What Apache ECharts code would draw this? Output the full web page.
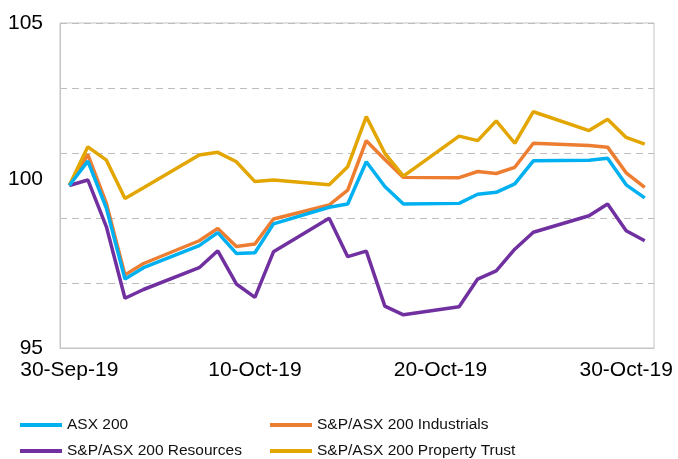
<!DOCTYPE html>
<html>
<head>
<meta charset="utf-8">
<script src="https://cdn.jsdelivr.net/npm/echarts@6/dist/echarts.min.js"></script>
<style>
  html, body { margin: 0; padding: 0; background: #fff; }
  #main { width: 678px; height: 459px; }
</style>
</head>
<body>
<div id="main"></div>
<script>
// trading days shown on the chart
var dates = ['2019-09-30', '2019-10-01', '2019-10-02', '2019-10-03', '2019-10-04',
  '2019-10-07', '2019-10-08', '2019-10-09', '2019-10-10', '2019-10-11',
  '2019-10-14', '2019-10-15', '2019-10-16', '2019-10-17', '2019-10-18',
  '2019-10-21', '2019-10-22', '2019-10-23', '2019-10-24', '2019-10-25',
  '2019-10-28', '2019-10-29', '2019-10-30', '2019-10-31'];

var asx200 = [100, 100.75, 99.3, 97.12, 97.47, 98.15, 98.55, 97.91, 97.93, 98.82,
  99.33, 99.43, 100.73, 99.97, 99.43, 99.45, 99.73, 99.79, 100.05, 100.76,
  100.78, 100.84, 100.02, 99.62];
var industrials = [100, 100.95, 99.45, 97.25, 97.6, 98.3, 98.68, 98.12, 98.2, 98.97,
  99.4, 99.86, 101.38, 100.8, 100.25, 100.24, 100.43, 100.37, 100.56, 101.3,
  101.23, 101.18, 100.39, 99.94];
var resources = [100, 100.17, 98.73, 96.53, 96.8, 97.47, 97.99, 96.97, 96.56, 97.96,
  98.99, 97.81, 97.98, 96.29, 96.02, 96.27, 97.12, 97.37, 98.04, 98.56,
  99.07, 99.43, 98.61, 98.3];
var propertyTrust = [100, 101.19, 100.78, 99.6, 99.93, 100.94, 101.02, 100.73, 100.12, 100.17,
  100.02, 100.58, 102.12, 100.99, 100.29, 101.52, 101.38, 101.99, 101.3, 102.27,
  101.69, 102.04, 101.48, 101.27];

var xTickLabels = ['30-Sep-19', '10-Oct-19', '20-Oct-19', '30-Oct-19'];
var yTickLabels = [95, 100, 105];

var seriesNames = ['ASX 200', 'S&P/ASX 200 Industrials', 'S&P/ASX 200 Resources', 'S&P/ASX 200 Property Trust'];
var seriesData = [asx200, industrials, resources, propertyTrust];
var colors = ['#00B0F0', '#ED7D31', '#7030A0', '#E3A600'];

var FONT = 'Arial, "Liberation Sans", sans-serif';
var DAY = 24 * 3600 * 1000;
var start = Date.parse(dates[0]);
// day offset from 30-Sep
var days = dates.map(function (d) { return Math.round((Date.parse(d) - start) / DAY); });

var chart = echarts.init(document.getElementById('main'));

function legendCol(left, names) {
  return {
    left: left, top: 417, height: 60,
    orient: 'vertical',
    padding: 0,
    itemGap: 10,
    itemWidth: 42, itemHeight: 4,
    icon: 'rect',
    textStyle: { fontFamily: FONT, fontSize: 15.5, color: '#111', lineHeight: 16 },
    data: names
  };
}

var option = {
  animation: false,
  backgroundColor: '#fff',
  color: colors,
  textStyle: { fontFamily: FONT },
  grid: {
    left: 60, right: 24, top: 23, bottom: 111,
    show: true,
    borderColor: '#c4c4c4',
    borderWidth: 1
  },
  legend: [
    legendCol(20, [seriesNames[0], seriesNames[2]]),
    legendCol(270, [seriesNames[1], seriesNames[3]])
  ],
  xAxis: {
    type: 'value',
    min: -0.5,
    max: 31.5,
    axisLine: { show: true, onZero: false, lineStyle: { color: '#c4c4c4' } },
    axisTick: { show: false },
    splitLine: { show: false },
    axisLabel: {
      customValues: [0, 10, 20, 30],
      margin: 12,
      fontFamily: FONT,
      fontSize: 21,
      color: '#000',
      formatter: function (v) { return xTickLabels[Math.round(v / 10)]; }
    }
  },
  yAxis: [{
    type: 'value',
    position: 'left',
    min: 95, max: 105, interval: 5,
    axisLine: { show: true, onZero: false, lineStyle: { color: '#c4c4c4' } },
    axisTick: { show: false },
    splitLine: { show: false },
    axisLabel: {
      margin: 17,
      fontFamily: FONT,
      fontSize: 21,
      color: '#000',
      formatter: function (v) {
        if (yTickLabels.indexOf(v) < 0) return '';
        return v === 100 ? '{mid|' + v + '}' : String(v);
      },
      rich: { mid: { fontFamily: FONT, fontSize: 21, color: '#000', padding: [0, 0, 12, 0] } }
    }
  }, {
    type: 'value',
    position: 'left',
    min: 95, max: 105, interval: 2,
    axisLine: { show: false, onZero: false },
    axisTick: { show: false },
    axisLabel: { show: false },
    splitLine: { show: true, lineStyle: { color: '#bdbdbd', type: [7, 5], width: 1 } }
  }],
  series: seriesData.map(function (vals, i) {
    return {
      name: seriesNames[i],
      type: 'line',
      showSymbol: false,
      symbol: 'none',
      lineStyle: { width: 3.5, color: colors[i] },
      itemStyle: { color: colors[i] },
      z: 3 + (i === 0 ? 1 : 0),
      data: vals.map(function (v, j) { return [days[j], v]; })
    };
  })
};

chart.setOption(option);
</script>
</body>
</html>
